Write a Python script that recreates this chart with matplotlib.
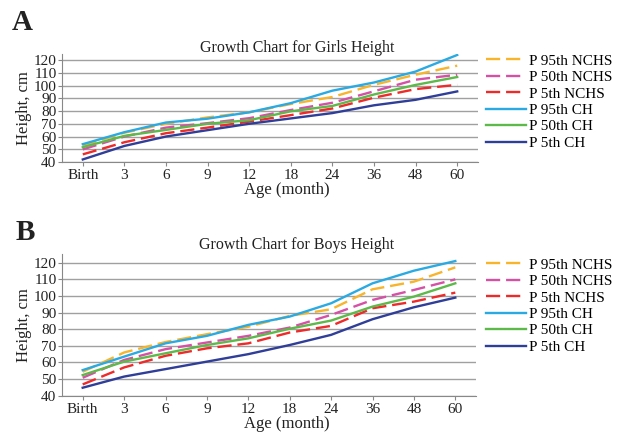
import matplotlib
matplotlib.use("Agg")
import matplotlib.pyplot as plt
import numpy as np

plt.rcParams['font.family'] = ['Liberation Serif', 'DejaVu Serif']

ages = ["Birth", "3", "6", "9", "12", "18", "24", "36", "48", "60"]
series_names = ["P 95th NCHS", "P 50th NCHS", "P 5th NCHS", "P 95th CH", "P 50th CH", "P 5th CH"]

# girls height (cm)
girls_p95_nchs = [52.8, 63.0, 70.0, 75.0, 79.0, 85.5, 91.0, 100.6, 108.5, 115.6]
girls_p50_nchs = [49.9, 60.0, 67.0, 70.5, 74.4, 80.8, 86.5, 95.5, 104.6, 108.5]
girls_p5_nchs = [46.0, 55.5, 62.6, 67.0, 71.7, 76.8, 82.0, 90.5, 97.2, 100.6]
girls_p95_ch = [54.0, 63.4, 71.0, 74.0, 79.0, 86.2, 96.0, 102.4, 111.0, 124.0]
girls_p50_ch = [51.6, 60.5, 65.2, 70.0, 72.8, 79.8, 84.0, 93.0, 100.5, 106.7]
girls_p5_ch = [42.0, 52.6, 60.0, 65.0, 70.0, 74.2, 78.4, 84.5, 88.8, 95.4]

# boys height (cm)
boys_p95_nchs = [54.4, 66.0, 72.3, 77.0, 81.5, 88.0, 92.0, 104.0, 108.6, 117.2]
boys_p50_nchs = [50.8, 61.5, 68.0, 72.0, 76.0, 81.0, 88.6, 97.6, 103.6, 110.0]
boys_p5_nchs = [46.8, 57.0, 64.0, 68.5, 71.5, 78.0, 82.0, 92.6, 96.6, 102.0]
boys_p95_ch = [55.4, 63.5, 71.5, 76.0, 82.6, 87.6, 95.6, 107.6, 115.2, 121.0]
boys_p50_ch = [52.4, 60.5, 65.5, 70.5, 74.5, 80.3, 85.2, 93.6, 99.6, 107.6]
boys_p5_ch = [44.8, 51.5, 56.0, 60.5, 65.0, 70.5, 76.6, 86.0, 93.2, 99.0]

girls = [girls_p95_nchs, girls_p50_nchs, girls_p5_nchs, girls_p95_ch, girls_p50_ch, girls_p5_ch]
boys = [boys_p95_nchs, boys_p50_nchs, boys_p5_nchs, boys_p95_ch, boys_p50_ch, boys_p5_ch]

colors = ['#F8B42A', '#D650A6', '#EE2A2A', '#2AAAE2', '#5CB94A', '#2F3E98']
styles = [(0, (6, 2.5)), (0, (6, 2.5)), (0, (6, 2.5)), '-', '-', '-']

fig = plt.figure(figsize=(6.27, 4.33), dpi=100)
W, H = 627.0, 433.0


def draw(rect, data, title, title_y, letter, letter_xy, legend_top):
    ax = fig.add_axes(rect)
    x = np.arange(len(ages))
    for vals, c, ls, name in zip(data, colors, styles, series_names):
        ax.plot(x, vals, color=c, linestyle=ls, lw=1.7, label=name)
    ax.set_xlim(-0.5, len(ages) - 0.5)
    ax.set_ylim(40, 125)
    ax.set_yticks(np.arange(40, 121, 10))
    ax.set_xticks(x)
    ax.set_xticklabels(ages)
    ax.yaxis.grid(True, color='#A0A0A0', lw=1)
    ax.set_axisbelow(True)
    for s in ['top', 'right']:
        ax.spines[s].set_visible(False)
    for s in ['left', 'bottom']:
        ax.spines[s].set_color('#888888')
    ax.tick_params(axis='both', colors='#888888', labelcolor='#222222', labelsize=11, length=3)
    ax.tick_params(axis='x', pad=2)
    ax.tick_params(axis='y', pad=1)
    ax.set_ylabel("Height, cm", fontsize=12, labelpad=1, color='#222222')
    ax.set_xlabel("Age (month)", fontsize=12, labelpad=0, color='#222222')
    ax.xaxis.label.set_x((287 - 62) / (rect[2] * W))
    fig.text(297 / W, 1 - title_y / H, title, fontsize=11.5, color='#222222',
             ha='center', va='center')
    fig.text(letter_xy[0] / W, 1 - letter_xy[1] / H, letter, fontsize=21, fontweight='bold',
             va='center', ha='left', color='#222222')
    ax.legend(loc='upper left', bbox_to_anchor=(486 / W, 1 - legend_top / H),
              bbox_transform=fig.transFigure, frameon=False, fontsize=11,
              handlelength=2.6, handletextpad=0.2, labelspacing=0.18,
              borderpad=0, borderaxespad=0)
    return ax


draw([62 / W, 1 - 162 / H, 416 / W, (162 - 53.7) / H], girls,
     "Growth Chart for Girls Height", 48, "A", (12, 22), 54)
draw([62 / W, 1 - 395.7 / H, 414 / W, (395.7 - 254.4) / H], boys,
     "Growth Chart for Boys Height", 245, "B", (16, 233), 258)

fig.savefig("out.png", dpi=100)
